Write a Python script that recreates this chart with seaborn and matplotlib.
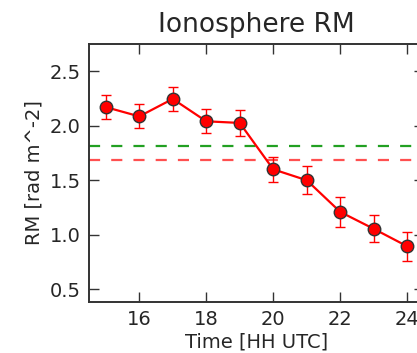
import matplotlib
matplotlib.use("Agg")
import matplotlib.pyplot as plt
import seaborn as sns
import pandas as pd

hours = [15, 16, 17, 18, 19, 20, 21, 22, 23, 24]
rm = [2.17, 2.085, 2.245, 2.04, 2.025, 1.60, 1.50, 1.21, 1.055, 0.895]
rm_err = [0.11, 0.11, 0.11, 0.11, 0.12, 0.115, 0.13, 0.135, 0.125, 0.135]
green_level = 1.813
red_level = 1.682

sns.set_style("ticks")
plt.rcParams["font.family"] = ["DejaVu Sans"]
plt.rcParams.update({
    "xtick.direction": "in", "ytick.direction": "in",
    "xtick.top": True, "ytick.right": True,
    "xtick.major.size": 7, "ytick.major.size": 7,
    "axes.edgecolor": "#333333", "axes.linewidth": 1.4,
    "text.color": "#262626", "axes.labelcolor": "#262626",
    "xtick.color": "#333333", "ytick.color": "#333333",
    "xtick.labelcolor": "#262626", "ytick.labelcolor": "#262626",
})

df = pd.DataFrame({"hour": hours, "rm": rm, "err": rm_err})

fig = plt.figure(figsize=(4.17, 3.53), dpi=100)
ax = fig.add_axes([89/417, 51/353, 335/417, 258/353])

ax.axhline(green_level, color="#22a022", ls=(0, (5, 5)), lw=1.6)
ax.axhline(red_level, color="#ff5050", ls=(0, (5, 5)), lw=1.6)

ax.errorbar(df["hour"], df["rm"], yerr=df["err"], fmt="none", ecolor="red",
            elinewidth=1.0, capsize=3.5, capthick=1.0, zorder=3)
sns.lineplot(data=df, x="hour", y="rm", ax=ax, color="red", lw=1.6,
             marker="o", markersize=9, markerfacecolor="red",
             markeredgecolor="#333333", markeredgewidth=1.0, zorder=4)

ax.set_xlim(14.5, 24.5)
ax.set_ylim(0.385, 2.748)
ax.set_xticks([16, 18, 20, 22, 24])
ax.set_yticks([0.5, 1.0, 1.5, 2.0, 2.5])
ax.tick_params(labelsize=14, width=1.0, pad=6)
ax.set_xlabel("Time [HH UTC]", fontsize=14, labelpad=2)
ax.set_ylabel("RM [rad m^-2]", fontsize=14)
ax.set_title("Ionosphere RM", fontsize=19, pad=9)

fig.savefig("out.png", dpi=100)
